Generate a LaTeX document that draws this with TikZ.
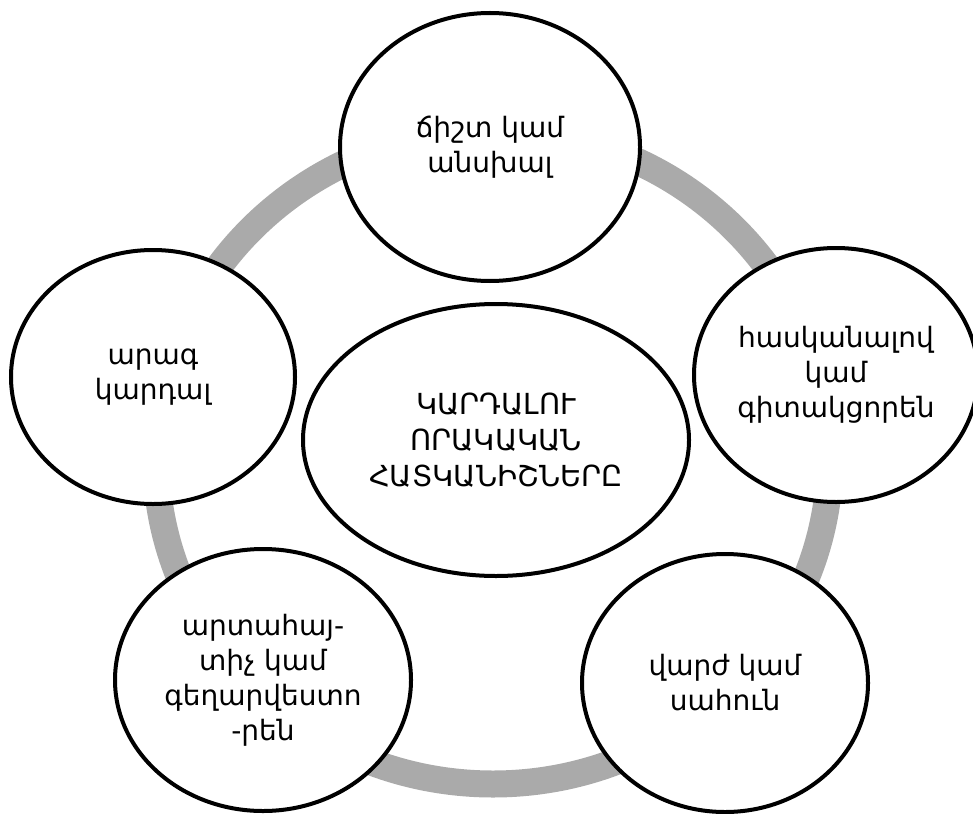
\documentclass[tikz,border=0pt]{standalone}
\usepackage{fontspec}
\setmainfont{DejaVu Sans}
\usetikzlibrary{shapes.geometric}
\definecolor{ringgray}{HTML}{AAAAAA}
\begin{document}
\begin{tikzpicture}[x=1pt,y=-1pt,
  bubble/.style={ellipse, draw=black, line width=4pt, fill=white, inner sep=0pt, align=center, font=\fontsize{28}{35}\selectfont},
  ringline/.style={draw=ringgray, line width=27pt}]
\useasboundingbox (0,0) rectangle (973,813);
\draw[ringline] (493,457) ellipse [x radius=337, y radius=327];
\node[bubble, minimum width=300pt, minimum height=268pt] (top) at (490,147) {ճիշտ կամ\\անսխալ};
\node[bubble, minimum width=284pt, minimum height=254pt] (right) at (836,375) {հասկանալով\\կամ\\գիտակցորեն};
\node[bubble, minimum width=286pt, minimum height=258pt] (bright) at (725,683) {վարժ կամ\\սահուն};
\node[bubble, minimum width=296pt, minimum height=262pt] (bleft) at (263,680) {արտահայ-\\տիչ կամ\\գեղարվեստո\\-րեն};
\node[bubble, minimum width=284pt, minimum height=254pt] (left) at (153,377) {արագ\\կարդալ};
\node[bubble, minimum width=386pt, minimum height=272pt, font=\fontsize{29}{36}\selectfont] (center) at (496,440) {ԿԱՐԴԱԼՈՒ\\ՈՐԱԿԱԿԱՆ\\ՀԱՏԿԱՆԻՇՆԵՐԸ};
\end{tikzpicture}
\end{document}
